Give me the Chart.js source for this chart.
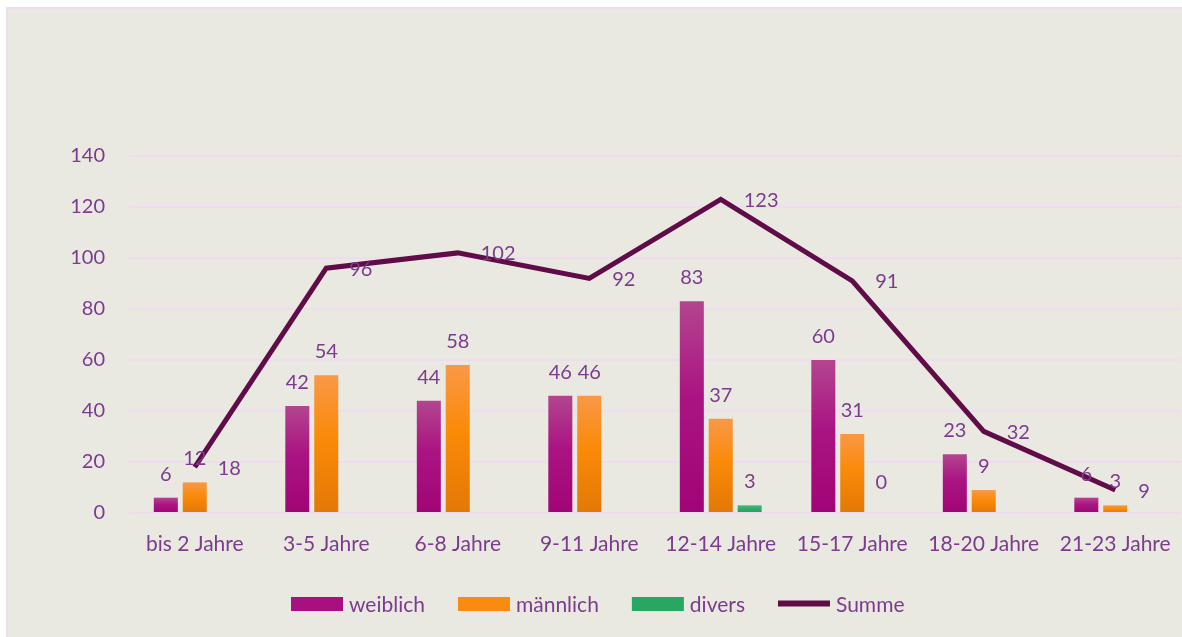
<!DOCTYPE html>
<html>
<head>
<meta charset="utf-8">
<script src="https://cdn.jsdelivr.net/npm/chart.js@4/dist/chart.umd.min.js"></script>
<style>
  html, body { margin: 0; padding: 0; background: #fff; }
  #wrap { width: 1182px; height: 637px; }
</style>
</head>
<body>
<div id="wrap"><canvas id="chart" width="1182" height="637"></canvas></div>
<script>
const categories = ['bis 2 Jahre', '3-5 Jahre', '6-8 Jahre', '9-11 Jahre', '12-14 Jahre', '15-17 Jahre', '18-20 Jahre', '21-23 Jahre'];
const weiblich = [6, 42, 44, 46, 83, 60, 23, 6];
const maennlich = [12, 54, 58, 46, 37, 31, 9, 3];
const divers = [null, null, null, null, 3, 0, null, null];
const summe = [18, 96, 102, 92, 123, 91, 32, 9];
const yMax = 140;
const yStep = 20;

const textColor = '#7c3b8f';
const fontFamily = 'Lato, "Open Sans", sans-serif';
const numberSize = 20;
const labelSize = 21;
const legendColors = ['#a80f7f', '#fa8a10', '#27a862', '#5f0c48'];

// vertical gradient for each bar, from its top to the zero line
const barGradient = (stops, fallback) => (ctx) => {
  const chart = ctx.chart;
  if (ctx.type !== 'data' || !chart.chartArea || ctx.raw == null) return fallback;
  const y = chart.scales.y;
  const top = y.getPixelForValue(ctx.raw);
  const base = y.getPixelForValue(0);
  if (base - top < 1) return fallback;
  const g = chart.ctx.createLinearGradient(0, top, 0, base);
  stops.forEach(([p, c]) => g.addColorStop(p, c));
  return g;
};

const backgroundPlugin = {
  id: 'background',
  beforeDraw(chart) {
    const c = chart.ctx;
    c.save();
    c.fillStyle = '#ffffff';
    c.fillRect(0, 0, chart.width, chart.height);
    c.fillStyle = '#e9e8e1';
    c.fillRect(8, 9, chart.width - 8, chart.height - 9);
    c.fillStyle = '#efdcef';
    c.fillRect(6, 7, chart.width - 6, 2);
    c.fillRect(6, 7, 2, chart.height - 7);
    c.restore();
  }
};

const valueLabels = {
  id: 'valueLabels',
  afterDatasetsDraw(chart) {
    const c = chart.ctx;
    c.save();
    c.font = `${numberSize}px ${fontFamily}`;
    c.fillStyle = textColor;
    chart.data.datasets.forEach((ds, di) => {
      const meta = chart.getDatasetMeta(di);
      meta.data.forEach((el, i) => {
        const v = ds.data[i];
        if (v == null) return;
        if (ds.type === 'line') {
          c.textAlign = 'left';
          c.textBaseline = 'middle';
          c.fillText(String(v), el.x + 23, el.y + 1);
        } else {
          c.textAlign = 'center';
          c.textBaseline = 'alphabetic';
          c.fillText(String(v), el.x, el.y - (v === 0 ? 24 : 17));
        }
      });
    });
    c.restore();
  }
};

const customLegend = {
  id: 'customLegend',
  afterDraw(chart) {
    const c = chart.ctx;
    const boxW = 52, boxH = 14, gapText = 6, gapItem = 33, cy = 604;
    let x = 291;
    c.save();
    c.font = `${labelSize}px ${fontFamily}`;
    chart.data.datasets.forEach((ds, i) => {
      c.fillStyle = legendColors[i];
      if (ds.type === 'line') {
        c.fillRect(x, cy - 3.5, boxW, 6);
      } else {
        c.fillRect(x, cy - boxH / 2, boxW, boxH);
      }
      c.fillStyle = textColor;
      c.textAlign = 'left';
      c.textBaseline = 'middle';
      c.fillText(ds.label, x + boxW + gapText, cy + 1);
      x += boxW + gapText + c.measureText(ds.label).width + gapItem;
    });
    c.restore();
  }
};

const ctx = document.getElementById('chart').getContext('2d');

new Chart(ctx, {
  data: {
    labels: categories,
    datasets: [
      {
        type: 'bar',
        label: 'weiblich',
        data: weiblich,
        backgroundColor: barGradient([[0, '#b3458f'], [0.45, '#aa1482'], [1, '#a10477']], '#a80f7f'),
        categoryPercentage: 0.66,
        barPercentage: 0.83,
        order: 1
      },
      {
        type: 'bar',
        label: 'männlich',
        data: maennlich,
        backgroundColor: barGradient([[0, '#f99847'], [0.45, '#fb8a08'], [1, '#e37806']], '#fa8a10'),
        categoryPercentage: 0.66,
        barPercentage: 0.83,
        order: 1
      },
      {
        type: 'bar',
        label: 'divers',
        data: divers,
        backgroundColor: barGradient([[0, '#3dba78'], [1, '#1f9f58']], '#27a862'),
        categoryPercentage: 0.66,
        barPercentage: 0.83,
        order: 1
      },
      {
        type: 'line',
        label: 'Summe',
        data: summe,
        borderColor: '#5f0c48',
        backgroundColor: '#5f0c48',
        borderWidth: 5,
        pointRadius: 0,
        tension: 0,
        fill: false,
        borderJoinStyle: 'miter',
        order: 0
      }
    ]
  },
  options: {
    responsive: false,
    animation: false,
    devicePixelRatio: 1,
    layout: { padding: { top: 156, left: 0, right: 1, bottom: 0 } },
    plugins: {
      legend: { display: false },
      tooltip: { enabled: false }
    },
    scales: {
      x: {
        grid: { display: false, drawTicks: false },
        border: { display: false },
        ticks: {
          color: textColor,
          font: { family: fontFamily, size: labelSize },
          padding: 19,
          maxRotation: 0
        },
        afterFit(scale) {
          scale.height = 124;
          scale.paddingLeft = 0;
          scale.paddingRight = 0;
        }
      },
      y: {
        min: 0,
        max: yMax,
        grid: { color: '#efdcef', lineWidth: 2, drawTicks: false },
        border: { display: false },
        ticks: {
          stepSize: yStep,
          color: textColor,
          font: { family: fontFamily, size: numberSize },
          padding: 24
        },
        afterFit(scale) { scale.width = 129; }
      }
    }
  },
  plugins: [backgroundPlugin, valueLabels, customLegend]
});
</script>
</body>
</html>
